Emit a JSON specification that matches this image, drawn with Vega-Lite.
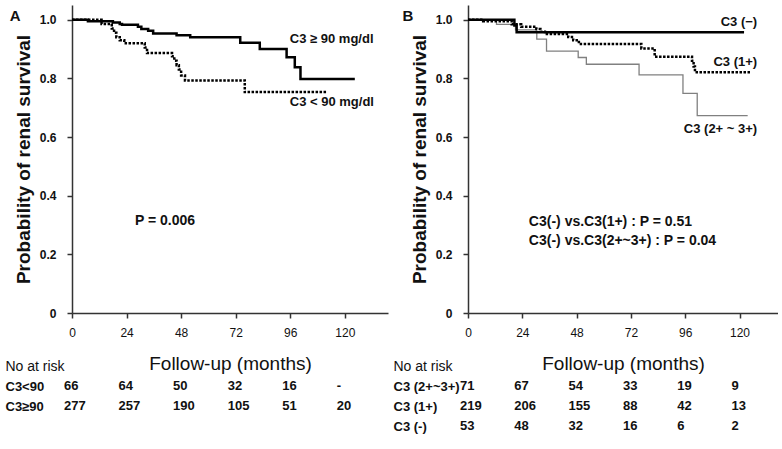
{
  "$schema": "https://vega.github.io/schema/vega-lite/v6.json",
  "padding": {"left": 5, "top": 5, "right": 0, "bottom": 5},
  "config": {
    "font": "Liberation Sans",
    "view": {"stroke": null},
    "axis": {"domainColor": "#333333", "tickColor": "#333333", "labelColor": "#111111", "titleColor": "#111111", "grid": false}
  },
  "datasets": {
    "kmA": [
      {"g": "C3≥90", "t": 0, "s": 1.0}, {"g": "C3≥90", "t": 7, "s": 0.995}, {"g": "C3≥90", "t": 18, "s": 0.99},
      {"g": "C3≥90", "t": 21, "s": 0.985}, {"g": "C3≥90", "t": 22, "s": 0.983}, {"g": "C3≥90", "t": 29, "s": 0.976},
      {"g": "C3≥90", "t": 30.5, "s": 0.968}, {"g": "C3≥90", "t": 33.5, "s": 0.962}, {"g": "C3≥90", "t": 35.7, "s": 0.953},
      {"g": "C3≥90", "t": 46, "s": 0.947}, {"g": "C3≥90", "t": 52, "s": 0.94}, {"g": "C3≥90", "t": 74, "s": 0.921},
      {"g": "C3≥90", "t": 82.6, "s": 0.9}, {"g": "C3≥90", "t": 94.4, "s": 0.872}, {"g": "C3≥90", "t": 98, "s": 0.838},
      {"g": "C3≥90", "t": 100.5, "s": 0.798}, {"g": "C3≥90", "t": 124.4, "s": 0.798},
      {"g": "C3<90", "t": 0, "s": 1.0}, {"g": "C3<90", "t": 13, "s": 0.985}, {"g": "C3<90", "t": 17.5, "s": 0.97},
      {"g": "C3<90", "t": 18.5, "s": 0.955}, {"g": "C3<90", "t": 19.5, "s": 0.94}, {"g": "C3<90", "t": 21, "s": 0.93},
      {"g": "C3<90", "t": 23, "s": 0.92}, {"g": "C3<90", "t": 32, "s": 0.905}, {"g": "C3<90", "t": 33, "s": 0.886},
      {"g": "C3<90", "t": 44, "s": 0.875}, {"g": "C3<90", "t": 45, "s": 0.86}, {"g": "C3<90", "t": 46, "s": 0.845},
      {"g": "C3<90", "t": 47, "s": 0.83}, {"g": "C3<90", "t": 48, "s": 0.81}, {"g": "C3<90", "t": 49.7, "s": 0.793},
      {"g": "C3<90", "t": 76, "s": 0.753}, {"g": "C3<90", "t": 112, "s": 0.753}
    ],
    "kmB": [
      {"g": "neg", "t": 0, "s": 1.0}, {"g": "neg", "t": 20.5, "s": 0.98}, {"g": "neg", "t": 21.5, "s": 0.957}, {"g": "neg", "t": 122, "s": 0.957},
      {"g": "one", "t": 0, "s": 1.0}, {"g": "one", "t": 6.7, "s": 0.995}, {"g": "one", "t": 19.3, "s": 0.984},
      {"g": "one", "t": 23.5, "s": 0.976}, {"g": "one", "t": 30.2, "s": 0.968}, {"g": "one", "t": 32, "s": 0.959},
      {"g": "one", "t": 34, "s": 0.951}, {"g": "one", "t": 44.3, "s": 0.941}, {"g": "one", "t": 46.5, "s": 0.93},
      {"g": "one", "t": 49, "s": 0.917}, {"g": "one", "t": 76.6, "s": 0.902}, {"g": "one", "t": 82.5, "s": 0.874},
      {"g": "one", "t": 99, "s": 0.86}, {"g": "one", "t": 99.7, "s": 0.84}, {"g": "one", "t": 100.3, "s": 0.821},
      {"g": "one", "t": 125, "s": 0.821},
      {"g": "two", "t": 0, "s": 1.0}, {"g": "two", "t": 12.6, "s": 0.984}, {"g": "two", "t": 21, "s": 0.965},
      {"g": "two", "t": 30.4, "s": 0.934}, {"g": "two", "t": 34.7, "s": 0.893}, {"g": "two", "t": 48.7, "s": 0.871},
      {"g": "two", "t": 52.3, "s": 0.848}, {"g": "two", "t": 75.6, "s": 0.812}, {"g": "two", "t": 95, "s": 0.749},
      {"g": "two", "t": 101.3, "s": 0.673}, {"g": "two", "t": 123.6, "s": 0.673}
    ],
    "annA": [
      {"kind": "note", "t": 95.8, "s": 0.935, "label": "C3 ≥ 90 mg/dl"},
      {"kind": "note", "t": 95.8, "s": 0.721, "label": "C3 < 90 mg/dl"},
      {"kind": "p", "t": 27.7, "s": 0.313, "label": "P = 0.006"},
      {"kind": "letter", "t": -25, "s": 1.014, "label": "A"}
    ],
    "annB": [
      {"kind": "note", "t": 127.8, "s": 0.993, "label": "C3 (−)"},
      {"kind": "note", "t": 127.8, "s": 0.857, "label": "C3 (1+)"},
      {"kind": "note", "t": 127.8, "s": 0.626, "label": "C3 (2+ ~ 3+)"},
      {"kind": "p", "t": 26.9, "s": 0.31, "label": "C3(-) vs.C3(1+) : P = 0.51"},
      {"kind": "p", "t": 26.9, "s": 0.245, "label": "C3(-) vs.C3(2+~3+) : P = 0.04"},
      {"kind": "letter", "t": -26.5, "s": 1.014, "label": "B"}
    ],
    "riskA": [
      {"row": "C3<90", "t": 0, "n": "66"}, {"row": "C3<90", "t": 24, "n": "64"}, {"row": "C3<90", "t": 48, "n": "50"},
      {"row": "C3<90", "t": 72, "n": "32"}, {"row": "C3<90", "t": 96, "n": "16"}, {"row": "C3<90", "t": 120, "n": "-"},
      {"row": "C3≥90", "t": 0, "n": "277"}, {"row": "C3≥90", "t": 24, "n": "257"}, {"row": "C3≥90", "t": 48, "n": "190"},
      {"row": "C3≥90", "t": 72, "n": "105"}, {"row": "C3≥90", "t": 96, "n": "51"}, {"row": "C3≥90", "t": 120, "n": "20"}
    ],
    "riskB": [
      {"row": "C3 (2+~3+)", "t": 0, "n": "71"}, {"row": "C3 (2+~3+)", "t": 24, "n": "67"}, {"row": "C3 (2+~3+)", "t": 48, "n": "54"},
      {"row": "C3 (2+~3+)", "t": 72, "n": "33"}, {"row": "C3 (2+~3+)", "t": 96, "n": "19"}, {"row": "C3 (2+~3+)", "t": 120, "n": "9"},
      {"row": "C3 (1+)", "t": 0, "n": "219"}, {"row": "C3 (1+)", "t": 24, "n": "206"}, {"row": "C3 (1+)", "t": 48, "n": "155"},
      {"row": "C3 (1+)", "t": 72, "n": "88"}, {"row": "C3 (1+)", "t": 96, "n": "42"}, {"row": "C3 (1+)", "t": 120, "n": "13"},
      {"row": "C3 (-)", "t": 0, "n": "53"}, {"row": "C3 (-)", "t": 24, "n": "48"}, {"row": "C3 (-)", "t": 48, "n": "32"},
      {"row": "C3 (-)", "t": 72, "n": "16"}, {"row": "C3 (-)", "t": 96, "n": "6"}, {"row": "C3 (-)", "t": 120, "n": "2"}
    ]
  },
  "spacing": 5,
  "hconcat": [
    {
      "bounds": "flush",
      "spacing": 43,
      "vconcat": [
        {
          "width": 316,
          "height": 308,
          "encoding": {
            "x": {"field": "t", "type": "quantitative", "scale": {"domain": [0, 139], "nice": false, "zero": false},
              "axis": {"values": [0, 24, 48, 72, 96, 120], "title": "Follow-up (months)", "titleFontSize": 19, "titleFontWeight": "normal", "titlePadding": 16, "labelFontSize": 12, "labelPadding": 9, "tickSize": 5, "domainWidth": 1.5, "tickWidth": 1.5, "labelFlush": false}},
            "y": {"field": "s", "type": "quantitative", "scale": {"domain": [0, 1.05], "nice": false},
              "axis": {"values": [0, 0.2, 0.4, 0.6, 0.8, 1.0], "labelExpr": "datum.value == 0 ? '0' : format(datum.value, '.1f')", "title": "Probability of renal survival", "titleFontSize": 19, "titleFontWeight": "bold", "titlePadding": 6, "labelFontSize": 12, "labelFontWeight": "bold", "labelPadding": 11, "tickSize": 5, "domainWidth": 1.5, "tickWidth": 1.5, "labelFlush": false}}
          },
          "layer": [
            {"data": {"name": "kmA"}, "transform": [{"filter": "datum.g == 'C3≥90'"}], "mark": {"type": "line", "interpolate": "step-after", "color": "#000000", "strokeWidth": 2.5}},
            {"data": {"name": "kmA"}, "transform": [{"filter": "datum.g == 'C3<90'"}], "mark": {"type": "line", "interpolate": "step-after", "color": "#000000", "strokeWidth": 2.5, "strokeDash": [2.5, 1.5]}},
            {"data": {"name": "annA"}, "transform": [{"filter": "datum.kind == 'note'"}], "mark": {"type": "text", "align": "left", "baseline": "middle", "fontWeight": "bold", "fontSize": 13, "color": "#111111"}, "encoding": {"text": {"field": "label"}}},
            {"data": {"name": "annA"}, "transform": [{"filter": "datum.kind == 'p'"}], "mark": {"type": "text", "align": "left", "baseline": "middle", "fontWeight": "bold", "fontSize": 14, "color": "#111111"}, "encoding": {"text": {"field": "label"}}},
            {"data": {"name": "annA"}, "transform": [{"filter": "datum.kind == 'letter'"}], "mark": {"type": "text", "align": "center", "baseline": "middle", "fontWeight": "bold", "fontSize": 15, "color": "#111111"}, "encoding": {"text": {"field": "label"}}}
          ]
        },
        {
          "width": 316,
          "height": 60,
          "data": {"name": "riskA"},
          "mark": {"type": "text", "align": "left", "baseline": "middle", "dx": -8, "fontWeight": "bold", "fontSize": 13, "color": "#111111"},
          "encoding": {
            "x": {"field": "t", "type": "quantitative", "scale": {"domain": [0, 139], "nice": false, "zero": false}, "axis": null},
            "y": {"field": "row", "type": "ordinal", "scale": {"domain": ["No at risk", "C3<90", "C3≥90"]},
              "axis": {"title": null, "domain": false, "ticks": false, "labelAlign": "left", "labelPadding": 67,
                "labelFontSize": {"condition": {"test": "datum.value == 'No at risk'", "value": 14}, "value": 13},
                "labelFontWeight": {"condition": {"test": "datum.value == 'No at risk'", "value": "normal"}, "value": "bold"}}},
            "text": {"field": "n"}
          }
        }
      ]
    },
    {
      "bounds": "flush",
      "spacing": 43,
      "vconcat": [
        {
          "width": 310,
          "height": 308,
          "encoding": {
            "x": {"field": "t", "type": "quantitative", "scale": {"domain": [0, 137], "nice": false, "zero": false},
              "axis": {"values": [0, 24, 48, 72, 96, 120], "title": "Follow-up (months)", "titleFontSize": 19, "titleFontWeight": "normal", "titlePadding": 16, "labelFontSize": 12, "labelPadding": 9, "tickSize": 5, "domainWidth": 1.5, "tickWidth": 1.5, "labelFlush": false}},
            "y": {"field": "s", "type": "quantitative", "scale": {"domain": [0, 1.05], "nice": false},
              "axis": {"values": [0, 0.2, 0.4, 0.6, 0.8, 1.0], "labelExpr": "datum.value == 0 ? '0' : format(datum.value, '.1f')", "title": "Probability of renal survival", "titleFontSize": 19, "titleFontWeight": "bold", "titlePadding": 6, "labelFontSize": 12, "labelFontWeight": "bold", "labelPadding": 11, "tickSize": 5, "domainWidth": 1.5, "tickWidth": 1.5, "labelFlush": false}}
          },
          "layer": [
            {"data": {"name": "kmB"}, "transform": [{"filter": "datum.g == 'two'"}], "mark": {"type": "line", "interpolate": "step-after", "color": "#808080", "strokeWidth": 1.3}},
            {"data": {"name": "kmB"}, "transform": [{"filter": "datum.g == 'one'"}], "mark": {"type": "line", "interpolate": "step-after", "color": "#000000", "strokeWidth": 2.5, "strokeDash": [2.5, 1.5]}},
            {"data": {"name": "kmB"}, "transform": [{"filter": "datum.g == 'neg'"}], "mark": {"type": "line", "interpolate": "step-after", "color": "#000000", "strokeWidth": 2.5}},
            {"data": {"name": "annB"}, "transform": [{"filter": "datum.kind == 'note'"}], "mark": {"type": "text", "align": "right", "baseline": "middle", "fontWeight": "bold", "fontSize": 13, "color": "#111111"}, "encoding": {"text": {"field": "label"}}},
            {"data": {"name": "annB"}, "transform": [{"filter": "datum.kind == 'p'"}], "mark": {"type": "text", "align": "left", "baseline": "middle", "fontWeight": "bold", "fontSize": 14, "color": "#111111"}, "encoding": {"text": {"field": "label"}}},
            {"data": {"name": "annB"}, "transform": [{"filter": "datum.kind == 'letter'"}], "mark": {"type": "text", "align": "center", "baseline": "middle", "fontWeight": "bold", "fontSize": 15, "color": "#111111"}, "encoding": {"text": {"field": "label"}}}
          ]
        },
        {
          "width": 310,
          "height": 80,
          "data": {"name": "riskB"},
          "mark": {"type": "text", "align": "left", "baseline": "middle", "dx": -8, "fontWeight": "bold", "fontSize": 13, "color": "#111111"},
          "encoding": {
            "x": {"field": "t", "type": "quantitative", "scale": {"domain": [0, 137], "nice": false, "zero": false}, "axis": null},
            "y": {"field": "row", "type": "ordinal", "scale": {"domain": ["No at risk", "C3 (2+~3+)", "C3 (1+)", "C3 (-)"]},
              "axis": {"title": null, "domain": false, "ticks": false, "labelAlign": "left", "labelPadding": 75,
                "labelFontSize": {"condition": {"test": "datum.value == 'No at risk'", "value": 14}, "value": 13},
                "labelFontWeight": {"condition": {"test": "datum.value == 'No at risk'", "value": "normal"}, "value": "bold"}}},
            "text": {"field": "n"}
          }
        }
      ]
    }
  ]
}
